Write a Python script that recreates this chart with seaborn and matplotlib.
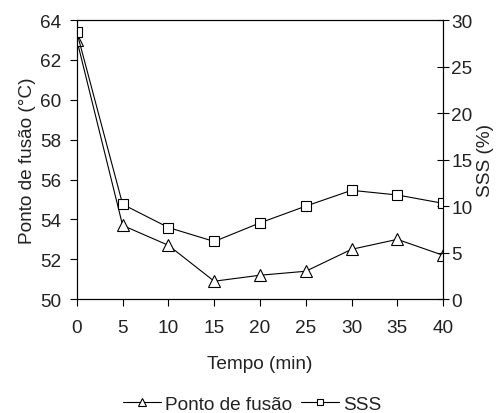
import numpy as np
import pandas as pd
import matplotlib
matplotlib.use("Agg")
import matplotlib.pyplot as plt
import seaborn as sns
from matplotlib.lines import Line2D

sns.set_style("white")
plt.rcParams['font.family'] = ['Liberation Sans', 'DejaVu Sans']

tempo = [0, 5, 10, 15, 20, 25, 30, 35, 40]
ponto_fusao = [63.0, 53.7, 52.7, 50.9, 51.2, 51.4, 52.5, 53.0, 52.2]
sss = [28.7, 10.2, 7.7, 6.2, 8.2, 10.0, 11.7, 11.2, 10.3]

df = pd.DataFrame({"tempo": tempo, "ponto": ponto_fusao, "sss": sss})

txt = "#222222"
fs = 13.7

fig = plt.figure(figsize=(4.99, 4.14), dpi=100)
ax = fig.add_axes([0.154, 0.275, 0.734, 0.674])
ax2 = ax.twinx()

sns.lineplot(data=df, x="tempo", y="ponto", ax=ax, color="black", lw=0.8,
             marker="^", markersize=8, markerfacecolor="white",
             markeredgecolor="black", markeredgewidth=0.8)
sns.lineplot(data=df, x="tempo", y="sss", ax=ax2, color="black", lw=0.8,
             marker="s", markersize=6.5, markerfacecolor="white",
             markeredgecolor="black", markeredgewidth=0.8)

ax.set_xlim(0, 40)
ax.set_ylim(50, 64)
ax2.set_ylim(0, 30)
ax.set_xticks(range(0, 41, 5))
ax.set_yticks(range(50, 65, 2))
ax2.set_yticks(range(0, 31, 5))

for a in (ax, ax2):
    for s in a.spines.values():
        s.set_color("black")
        s.set_linewidth(0.8)

ax.tick_params(axis="both", direction="out", length=5, width=0.8, color="black",
               labelsize=fs, labelcolor=txt, left=True, bottom=True)
ax.tick_params(axis="x", pad=9)
ax.tick_params(axis="y", pad=6)
ax2.tick_params(axis="y", direction="inout", length=8, width=0.8, color="black",
                labelsize=fs, labelcolor=txt, right=True, pad=2)

ax.set_xlabel("Tempo (min)", fontsize=fs, color=txt, labelpad=14)
ax.set_ylabel("Ponto de fusão (°C)", fontsize=fs, color=txt, labelpad=3)
ax2.set_ylabel("SSS (%)", fontsize=fs, color=txt, labelpad=3)

handles = [
    Line2D([], [], color="black", lw=0.8, marker="^", markersize=6,
           markerfacecolor="white", markeredgewidth=0.8),
    Line2D([], [], color="black", lw=0.8, marker="s", markersize=5,
           markerfacecolor="white", markeredgewidth=0.8),
]
fig.legend(handles, ["Ponto de fusão", "SSS"], loc="center", bbox_to_anchor=(0.505, 0.022),
           ncol=2, frameon=False, fontsize=fs, handlelength=2.0, handletextpad=0.2,
           columnspacing=0.5, labelcolor=txt)

fig.savefig("out.png", dpi=100)
